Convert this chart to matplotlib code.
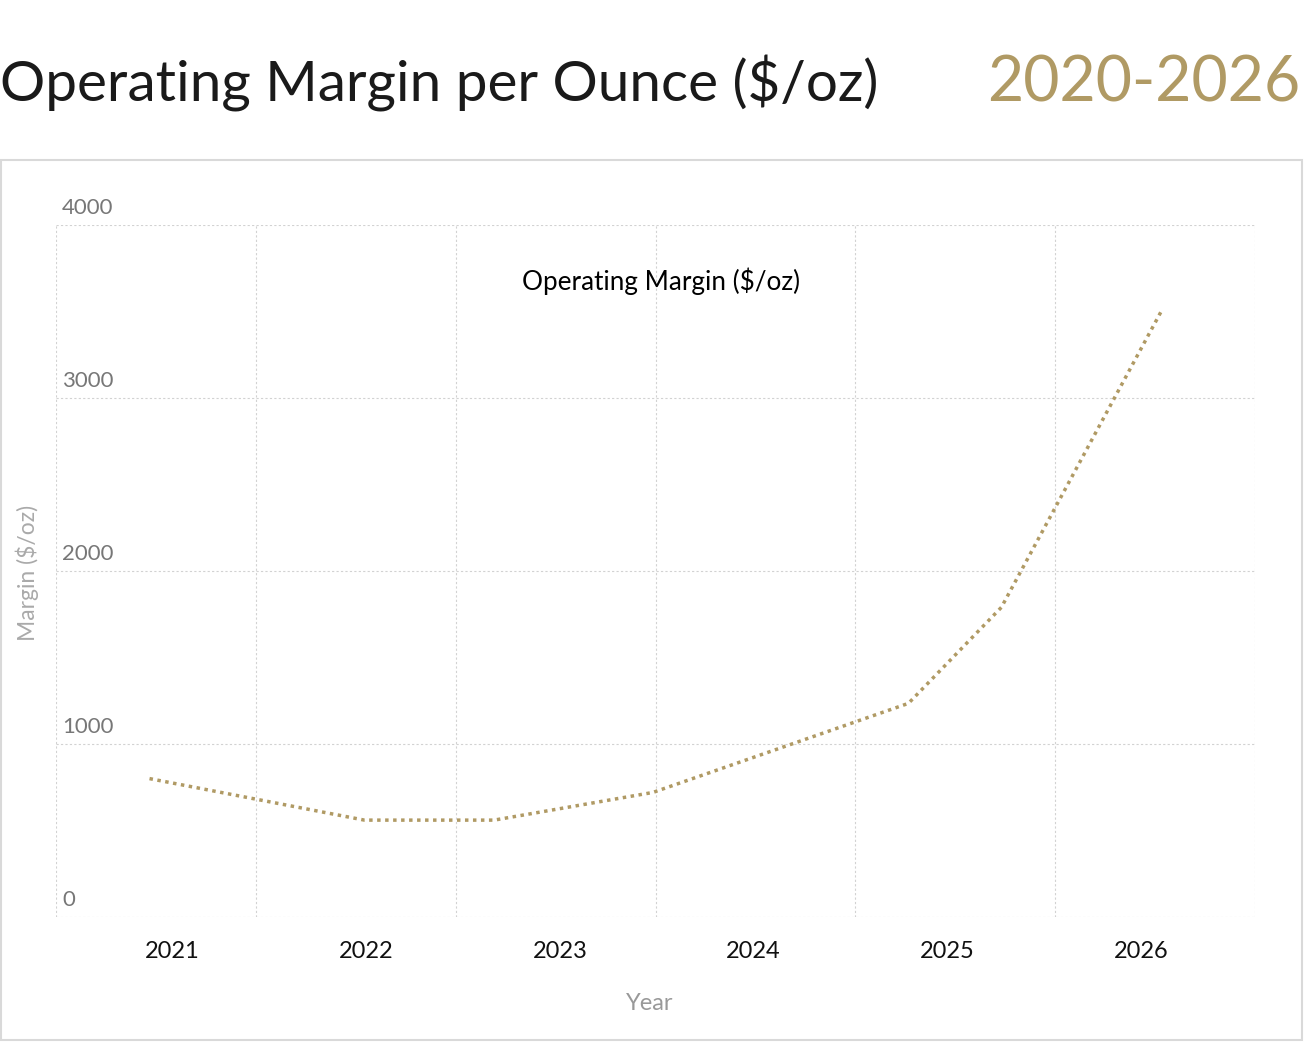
import matplotlib
matplotlib.use("Agg")
import matplotlib.pyplot as plt
from matplotlib.patches import Rectangle
import numpy as np

# data (x in fractional years)
years = [2020.88, 2021.99, 2022.66, 2023.48, 2024.80, 2025.28, 2026.11]
margin = [800, 560, 560, 720, 1235, 1790, 3510]

year_ticks = [2021, 2022, 2023, 2024, 2025, 2026]
margin_ticks = [0, 1000, 2000, 3000, 4000]

gold = "#b09a64"
grid_col = "#d2d2d2"
plt.rcParams["font.family"] = ["Lato", "DejaVu Sans"]

W, H = 1304, 1042
fig = plt.figure(figsize=(W / 100, H / 100), dpi=100)

# card frame
fig.patches.append(Rectangle((1 / W, 1 - 1040 / H), 1301 / W, 880 / H,
                             transform=fig.transFigure, fill=False,
                             edgecolor="#d9d9d9", linewidth=1.5))

fig.text(0, 1 - 102 / H, "Operating Margin per Ounce ($/oz)", fontsize=40.8,
         color="#1a1a1a", ha="left", va="baseline")
fig.text(1300 / W, 1 - 102 / H, "2020-2026", fontsize=45,
         color=gold, ha="right", va="baseline")

ax = fig.add_axes([56 / W, 1 - 917 / H, 1199 / W, 692 / H])
xmin, xmax = 2020.397, 2026.590
ax.set_xlim(xmin, xmax)
ax.set_ylim(0, 4000)

ax.plot(years, margin, color=gold, linewidth=2.5,
        linestyle=(0, (1, 1.3)), dash_capstyle="butt")

# grid: vertical lines evenly across the plot, horizontal at y ticks
for gx in np.linspace(xmin, xmax, 7):
    ax.axvline(gx, color=grid_col, linewidth=0.8, linestyle=(0, (2, 2)), zorder=0)
for gy in margin_ticks:
    ax.axhline(gy, color=grid_col, linewidth=0.8, linestyle=(0, (2, 2)), zorder=0)

for s in ax.spines.values():
    s.set_visible(False)

ax.set_xticks(year_ticks)
ax.set_xticklabels([str(y) for y in year_ticks], fontsize=17, color="#111111")
ax.tick_params(axis="x", length=0, pad=17)
ax.set_yticks([])
for v in margin_ticks:
    ax.annotate(str(v), xy=(0, v), xycoords=("axes fraction", "data"),
                xytext=(4.5, 5), textcoords="offset points",
                fontsize=16, color="#777777", ha="left", va="bottom")

ax.text(0.505, 0.919, "Operating Margin ($/oz)", transform=ax.transAxes,
        fontsize=18.8, color="black", ha="center", va="center")

fig.text(27 / W, 1 - 573 / H, "Margin ($/oz)", rotation=90, fontsize=16.5,
         color="#aaaaaa", ha="center", va="center")
fig.text(650 / W, 1 - 1003 / H, "Year", fontsize=17, color="#999999",
         ha="center", va="center")

fig.savefig("out.png", dpi=100)
